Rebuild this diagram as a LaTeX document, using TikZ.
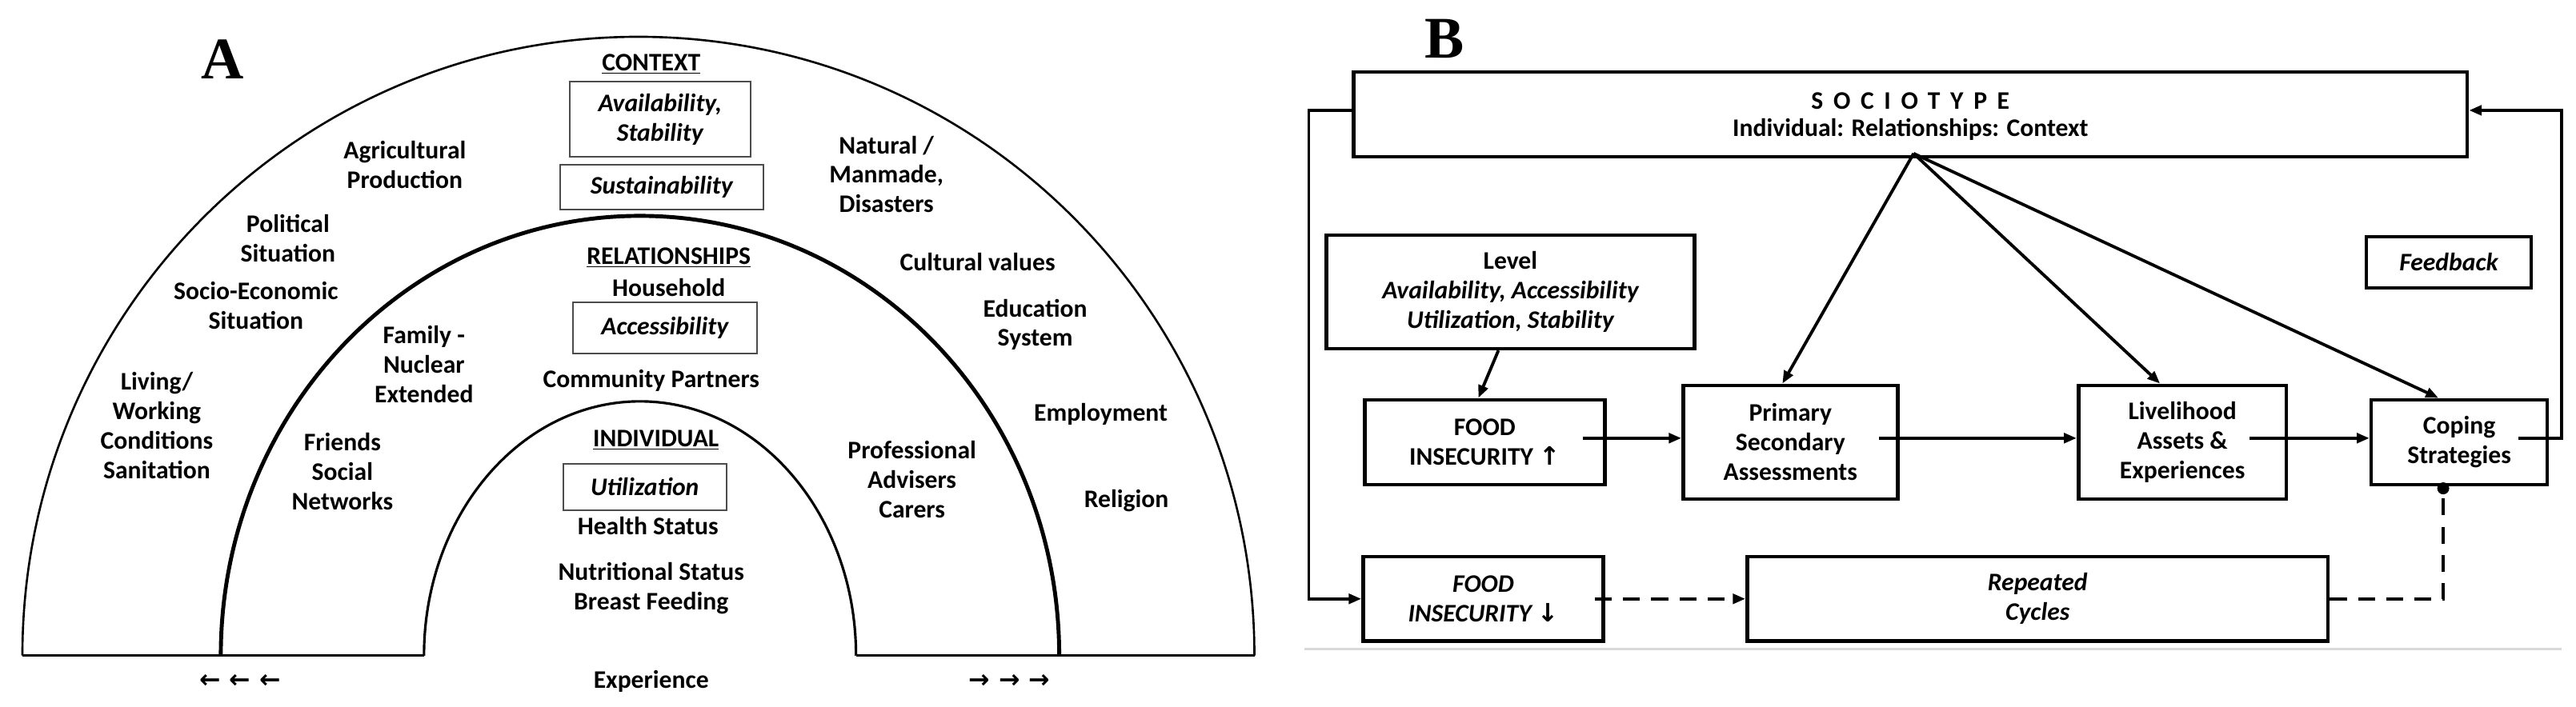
\documentclass[tikz,border=0pt]{standalone}
\usepackage{fontspec}
\setmainfont{Carlito}
\newfontfamily\serifA{Liberation Serif}
\newfontfamily\arrf{DejaVu Sans}
\usetikzlibrary{arrows.meta,calc}
\begin{document}
\begin{tikzpicture}[
  every node/.style={font=\bfseries\fontsize{18}{21}\selectfont, align=center, inner sep=0pt},
  ibox/.style={draw=black!70, line width=1.2pt, inner sep=0pt},
  bbox/.style={draw, line width=2.6pt, inner sep=0pt},
  arr/.style={line width=2.2pt, -{Triangle[length=9pt,width=7pt]}},
  big/.style={font=\serifA\bfseries\fontsize{42}{42}\selectfont}
]
\useasboundingbox (0,0) rectangle (64.4,-17.68);
% ---------- Panel A ----------
\node[big] (labA) at (5.56,-1.48) {A};
\draw[line width=1.5pt] (0.56,-16.4) arc[start angle=180,end angle=0,x radius=15.4cm,y radius=15.48cm];
\draw[line width=2.8pt] (5.52,-16.4) arc[start angle=180,end angle=0,x radius=10.48cm,y radius=11cm];
\draw[line width=1.8pt] (10.6,-16.4) arc[start angle=180,end angle=0,x radius=5.4cm,y radius=6.36cm];
\draw[line width=1.8pt] (0.56,-16.4) -- (10.6,-16.4);
\draw[line width=1.8pt] (21.4,-16.4) -- (31.36,-16.4);

\node (ctx) at (16.28,-1.6) {\underline{CONTEXT}};
\node[ibox, minimum width=4.52cm, minimum height=1.88cm] (avail) at (16.5,-2.98) {\itshape Availability,\\\itshape Stability};
\node[ibox, minimum width=5.08cm, minimum height=1.12cm] (sust) at (16.54,-4.68) {\itshape Sustainability};
\node (agri) at (10.12,-4.12) {Agricultural\\Production};
\node (pol) at (7.2,-5.96) {Political\\Situation};
\node (soc) at (6.4,-7.64) {Socio-Economic\\Situation};
\node (liv) at (3.92,-10.64) {Living/\\Working\\Conditions\\Sanitation};
\node (nat) at (22.16,-4.36) {Natural /\\Manmade,\\Disasters};
\node (cult) at (24.44,-6.56) {Cultural values};
\node (edu) at (25.88,-8.12) {Education\\System};
\node (emp) at (27.52,-10.36) {Employment};
\node (rel) at (28.16,-12.52) {Religion};
\node (relt) at (16.72,-6.44) {\underline{RELATIONSHIPS}};
\node (hh) at (16.72,-7.2) {Household};
\node[ibox, minimum width=4.6cm, minimum height=1.28cm] (acc) at (16.62,-8.2) {\itshape Accessibility};
\node (comm) at (16.28,-9.52) {Community Partners};
\node (fam) at (10.6,-9.12) {Family -\\Nuclear\\Extended};
\node (fri) at (8.56,-11.8) {Friends\\Social\\Networks};
\node (prof) at (22.8,-12) {Professional\\Advisers\\Carers};
\node (ind) at (16.4,-11) {\underline{INDIVIDUAL}};
\node[ibox, minimum width=4.08cm, minimum height=1.16cm] (util) at (16.12,-12.18) {\itshape Utilization};
\node (hs) at (16.2,-13.16) {Health Status};
\node (ns) at (16.28,-14.72) {Nutritional Status\\Breast Feeding};
\node (exp) at (16.28,-17.04) {Experience};
\node (larr) at (6,-17.04) {\arrf\bfseries ← ← ←};
\node (rarr) at (25.24,-17.04) {\arrf\bfseries → → →};

% ---------- Panel B ----------
\node[big] (labB) at (36.12,-0.96) {B};
\node[bbox, minimum width=27.84cm, minimum height=2.12cm] (soct) at (47.76,-2.86) {};
\node (soct1) at (47.76,-2.52) {\addfontfeature{LetterSpace=40}SOCIOTYPE};
\node (soct2) at (47.76,-3.24) {Individual: Relationships: Context};
\node[bbox, minimum width=9.2cm, minimum height=2.84cm] (lev) at (37.76,-7.3) {Level\\\itshape Availability, Accessibility\\\itshape Utilization, Stability};
\node[bbox, minimum width=4.12cm, minimum height=1.28cm] (fb) at (61.22,-6.56) {\itshape Feedback};
\node[bbox, minimum width=6cm, minimum height=2.12cm] (fiup) at (37.12,-11.06) {FOOD\\INSECURITY {\arrf\bfseries ↑}};
\node[bbox, minimum width=5.36cm, minimum height=2.84cm] (prim) at (44.76,-11.06) {Primary\\Secondary\\Assessments};
\node[bbox, minimum width=5.2cm, minimum height=2.84cm] (live) at (54.56,-11.06) {Livelihood\\Assets \&\\Experiences};
\node[bbox, minimum width=4.4cm, minimum height=2.12cm] (cope) at (61.48,-11.06) {Coping\\Strategies};
\node[bbox, minimum width=6cm, minimum height=2.12cm] (fidn) at (37.08,-14.98) {\itshape FOOD\\\itshape INSECURITY {\arrf\bfseries ↓}};
\node[bbox, minimum width=14.52cm, minimum height=2.12cm] (rep) at (50.94,-14.98) {\itshape Repeated\\\itshape Cycles};
\draw[black!15, line width=1.5pt] (32.6,-16.24) -- (64.04,-16.24);

\coordinate (apex) at (47.84,-3.84);
\coordinate (ll1) at (32.72,-2.76);
\coordinate (ll2) at (32.72,-14.98);
\coordinate (rl1) at (64.04,-10.96);
\coordinate (rl2) at (64.04,-2.76);
\coordinate (hy) at (40,-10.96);
\coordinate (dc) at (61.08,-14.98);

\draw[arr] (soct.west |- ll1) -- (ll1) -- (ll2) -- (fidn.west);
\draw[arr] ([xshift=-0.76cm]cope.east |- rl1) -- (rl1) -- (rl2) -- (soct.east |- rl2);
\draw[arr] ([xshift=-0.3cm]lev.south) -- ([xshift=-0.16cm]fiup.north);
\draw[arr] (apex) -- ([xshift=-0.2cm]prim.north);
\draw[arr] (apex) -- ([xshift=-0.56cm]live.north);
\draw[arr] (apex) -- ([xshift=-0.52cm]cope.north);
\draw[arr] ([xshift=-0.6cm]fiup.east |- hy) -- (prim.west |- hy);
\draw[arr] ([xshift=-0.52cm]prim.east |- hy) -- (live.west |- hy);
\draw[arr] ([xshift=-0.96cm]live.east |- hy) -- (cope.west |- hy);
\draw[arr, dash pattern=on 12pt off 8pt] ([xshift=-0.25cm]fidn.east) -- (rep.west);
\draw[line width=2.2pt, dash pattern=on 12pt off 8pt] (rep.east) -- (dc) -- (dc |- cope.south);
\fill ([yshift=-0.05cm]dc |- cope.south) circle (0.15);
\end{tikzpicture}
\end{document}
